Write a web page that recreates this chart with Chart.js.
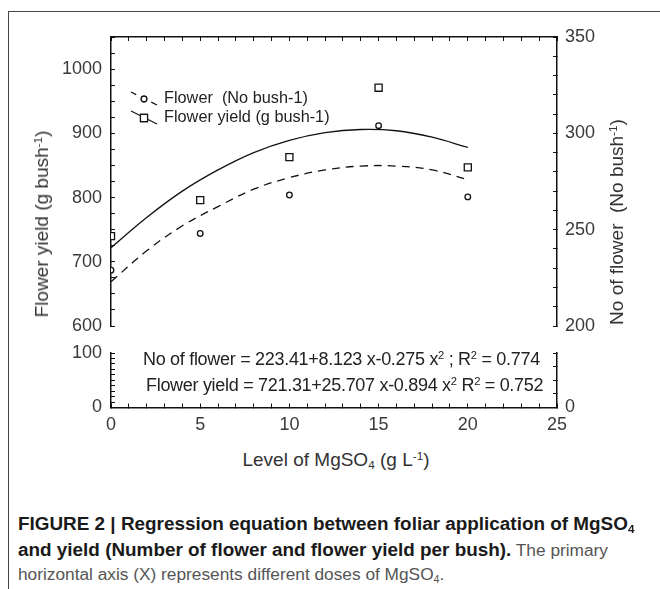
<!DOCTYPE html>
<html>
<head>
<meta charset="utf-8">
<script src="https://cdn.jsdelivr.net/npm/chart.js@4.4.1/dist/chart.umd.min.js"></script>
<style>
  html, body { margin: 0; padding: 0; background: #fff; }
  body { width: 660px; height: 589px; position: relative; overflow: hidden; font-family: "Liberation Sans", Arial, sans-serif; color: #333; }
  .frame { position: absolute; left: 8px; top: 11px; width: 700px; height: 700px; border-left: 1px solid #444; border-top: 1px solid #444; }
  #chart { position: absolute; left: 0; top: 0; }
  .lbl { position: absolute; white-space: nowrap; font-size: 19px; line-height: 22px; }
  .rot { transform: translate(-50%, -50%) rotate(-90deg); }
  .ctr { transform: translate(-50%, -50%); }
  .eq { position: absolute; white-space: nowrap; font-size: 18px; line-height: 20px; transform: translateY(-50%); letter-spacing: -0.3px; color: #222; }
  .up { font-size: 0.62em; position: relative; top: -0.55em; }
  .dn { font-size: 0.62em; position: relative; top: 0.25em; }
  .caption { position: absolute; left: 18px; top: 512px; font-size: 17.3px; line-height: 24px; white-space: nowrap; color: #555; }
  .caption b { color: #1a1a1a; font-size: 18.9px; }
</style>
</head>
<body>
<div class="frame"></div>
<canvas id="chart" width="660" height="440"></canvas>

<div class="lbl rot" style="left:43px; top:224px;">Flower yield (g bush<span class="up">-1</span>)</div>
<div class="lbl rot" style="left:618px; top:222px;">No of flower&nbsp; (No bush<span class="up">-1</span>)</div>
<div class="lbl ctr" style="left:336px; top:461px;">Level of MgSO<span class="dn">4</span> (g L<span class="up">-1</span>)</div>

<div class="eq" style="left:143px; top:360px;">No of flower = 223.41+8.123 x-0.275 x<span class="up">2</span> ; R<span class="up">2</span> = 0.774</div>
<div class="eq" style="left:146px; top:386px;">Flower yield = 721.31+25.707 x-0.894 x<span class="up">2</span> R<span class="up">2</span> = 0.752</div>

<div class="caption"><b>FIGURE 2 | Regression equation between foliar application of MgSO<span class="dn">4</span></b><br><b>and yield (Number of flower and flower yield per bush).</b> The primary<br>horizontal axis (X) represents different doses of MgSO<span class="dn">4</span>.</div>

<script>
// measured means per dose
const doses = [0, 5, 10, 15, 20];
const yieldMeans = [740, 796, 863, 971, 847];
const flowerMeans = [229, 248, 268, 304, 267];

// fitted curves
const fitX = [0, 2, 4, 6, 8, 10, 12, 14, 16, 18, 20];
const yieldFit = [722, 769, 810, 843, 870, 889, 901, 906, 904, 894, 878];
const flowerFit = [223, 239, 252, 262, 271, 277, 281, 283, 283, 281, 276];

// labelled ticks
const xTicks = [0, 5, 10, 15, 20, 25];
const yieldTicks = [600, 700, 800, 900, 1000];
const flowerTicks = [200, 250, 300, 350];
const lowerLeftTicks = [0, 100];
const lowerRightTicks = [0];

const ink = '#111';
const textColor = '#3a3a3a';
const fontFamily = '"Liberation Sans", Arial, sans-serif';

const pairs = (xs, ys) => xs.map((x, i) => ({ x, y: ys[i] }));

// every step gets a tick mark, only the listed values get a label
function stepTicks(step) {
    return (scale) => {
        const ticks = [];
        for (let v = scale.min; v <= scale.max + 1e-9; v += step) {
            ticks.push({ value: Math.round(v * 1000) / 1000 });
        }
        scale.ticks = ticks;
    };
}

function axis(opts) {
    const { position, min, max, step, labels, padding, size, stack, weight } = opts;
    return {
        type: 'linear',
        position,
        min,
        max,
        stack,
        stackWeight: weight,
        afterBuildTicks: stepTicks(step),
        afterFit: (scale) => {
            if (scale.isHorizontal()) {
                scale.height = size;
            } else {
                scale.width = size;
            }
        },
        ticks: {
            display: !!labels,
            autoSkip: false,
            maxRotation: 0,
            padding: padding || 0,
            color: textColor,
            font: { family: fontFamily, size: 18 },
            callback: (value) => (labels && labels.includes(value) ? String(value) : ''),
        },
        grid: {
            drawOnChartArea: false,
            drawTicks: true,
            tickLength: -4,
            color: ink,
            lineWidth: 1,
        },
        border: { display: true, color: ink, width: 1.5 },
    };
}

function gap(position, stack, weight, size) {
    return {
        type: 'linear',
        position,
        min: 0,
        max: 1,
        stack,
        stackWeight: weight,
        afterFit: (scale) => { scale.width = size; },
        ticks: { display: false },
        grid: { display: false },
        border: { display: false },
    };
}

const legendItems = [
    { dataset: 3, text: 'Flower  (No bush-1)', dy: 62, dashed: true },
    { dataset: 2, text: 'Flower yield (g bush-1)', dy: 81, dashed: false },
];

const cornerLegend = {
    id: 'cornerLegend',
    afterDatasetsDraw(chart) {
        const { ctx, chartArea } = chart;
        ctx.save();
        ctx.strokeStyle = ink;
        ctx.lineWidth = 1.2;
        legendItems.forEach((item) => {
            const ds = chart.data.datasets[item.dataset];
            const x1 = chartArea.left + 20;
            const x2 = chartArea.left + 46;
            const cx = (x1 + x2) / 2;
            const cy = chartArea.top + item.dy;
            const y1 = cy - 7;
            const y2 = cy + 6;
            ctx.beginPath();
            if (item.dashed) {
                ctx.moveTo(x1, y1);
                ctx.lineTo(x1 + (x2 - x1) * 0.2, y1 + (y2 - y1) * 0.2);
                ctx.moveTo(x1 + (x2 - x1) * 0.78, y1 + (y2 - y1) * 0.78);
                ctx.lineTo(x2, y2);
            } else {
                ctx.moveTo(x1, y1);
                ctx.lineTo(x2, y2);
            }
            ctx.stroke();
            Chart.helpers.drawPoint(ctx, {
                pointStyle: ds.pointStyle,
                radius: ds.pointRadius,
                borderWidth: ds.borderWidth,
            }, cx, cy);
            ctx.fillStyle = '#fff';
            ctx.fill();
            ctx.stroke();
            ctx.fillStyle = '#222';
            ctx.font = '16.3px ' + fontFamily;
            ctx.textBaseline = 'middle';
            ctx.fillText(item.text, chartArea.left + 53, cy);
        });
        ctx.restore();
    },
};

new Chart(document.getElementById('chart'), {
    type: 'scatter',
    data: {
        datasets: [
            {
                label: 'Flower yield fit',
                data: pairs(fitX, yieldFit),
                yAxisID: 'yL',
                showLine: true,
                borderColor: ink,
                borderWidth: 1.3,
                pointRadius: 0,
                tension: 0.4,
            },
            {
                label: 'No of flower fit',
                data: pairs(fitX, flowerFit),
                yAxisID: 'yR',
                showLine: true,
                borderColor: ink,
                borderWidth: 1.3,
                borderDash: [8, 6],
                pointRadius: 0,
                tension: 0.4,
            },
            {
                label: 'Flower yield (g bush-1)',
                data: pairs(doses, yieldMeans),
                yAxisID: 'yL',
                pointStyle: 'rect',
                pointRadius: 5,
                borderWidth: 1.3,
                borderColor: ink,
                backgroundColor: '#fff',
            },
            {
                label: 'Flower (No bush-1)',
                data: pairs(doses, flowerMeans),
                yAxisID: 'yR',
                pointStyle: 'circle',
                pointRadius: 2.8,
                borderWidth: 1.3,
                borderColor: ink,
                backgroundColor: '#fff',
            },
        ],
    },
    options: {
        responsive: false,
        animation: false,
        layout: { padding: 0 },
        plugins: {
            legend: { display: false },
            tooltip: { enabled: false },
        },
        scales: {
            x: axis({ position: 'bottom', min: 0, max: 25, step: 1, labels: xTicks, padding: 11, size: 32.5 }),
            xTop: axis({ position: 'top', min: 0, max: 25, step: 1, labels: null, size: 37 }),
            yLow: axis({ position: 'left', min: 0, max: 100, step: 10, labels: lowerLeftTicks, padding: 13, size: 111, stack: 'left', weight: 54.5 }),
            yGapL: gap('left', 'left', 27, 111),
            yL: axis({ position: 'left', min: 600, max: 1050, step: 25, labels: yieldTicks, padding: 13, size: 111, stack: 'left', weight: 289 }),
            yR: axis({ position: 'right', min: 200, max: 350, step: 10, labels: flowerTicks, padding: 12, size: 103, stack: 'right', weight: 289 }),
            yGapR: gap('right', 'right', 27, 103),
            yRLow: axis({ position: 'right', min: 0, max: 100, step: 25, labels: lowerRightTicks, padding: 12, size: 103, stack: 'right', weight: 54.5 }),
        },
    },
    plugins: [cornerLegend],
});
</script>
</body>
</html>
